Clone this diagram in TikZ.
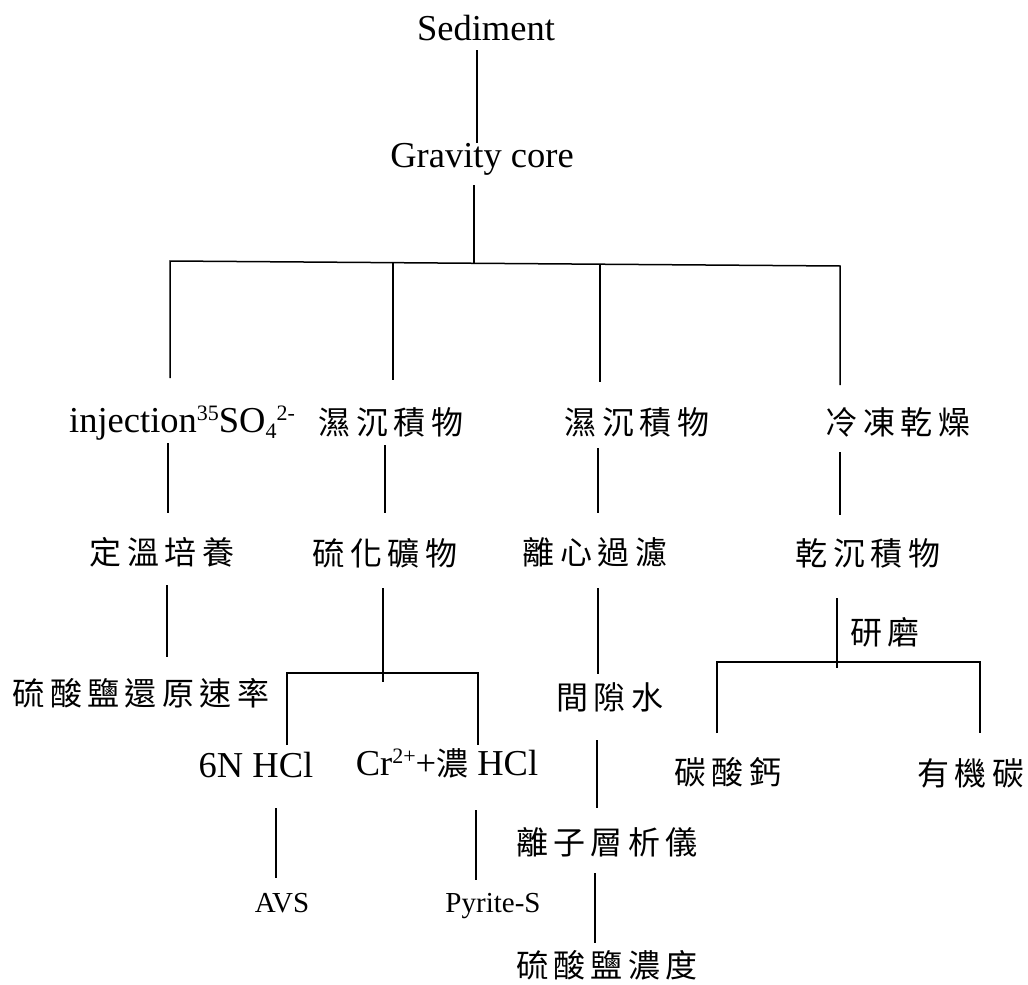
\documentclass[tikz,border=0pt]{standalone}
\usepackage{fontspec}
\setmainfont{Liberation Serif}
\newfontfamily\cjk{Noto Sans CJK TC}[LetterSpace=17]
\newcommand\hanmix[1]{{\fontsize{32}{36}\cjk #1}}
\newcommand\sps[1]{\raisebox{12pt}{\fontsize{22}{24}\selectfont #1}}
\newcommand\sbs[1]{\raisebox{-6pt}{\fontsize{22}{24}\selectfont #1}}
\begin{document}
\begin{tikzpicture}[x=1pt,y=-1pt,
  lat/.style={inner sep=0pt, anchor=base, font=\fontsize{36.5}{40}\selectfont},
  smalllat/.style={inner sep=0pt, anchor=base, font=\fontsize{29}{32}\selectfont},
  han/.style={inner sep=0pt, anchor=center, font=\fontsize{32}{36}\cjk},
  conn/.style={line width=1.5pt, line join=miter}]
\useasboundingbox (0,0) rectangle (1028,985);
% text nodes
\node[lat] (sed) at (486,40) {Sediment};
\node[lat] (grav) at (482,167) {Gravity core};
\node[lat] (inj) at (182,432) {injection\sps{35}SO\sbs{4}\sps{2-}};
\node[han] (wet1) at (391,422) {濕沉積物};
\node[han] (wet2) at (637,422) {濕沉積物};
\node[han] (frz) at (898,422) {冷凍乾燥};
\node[han] (inc) at (162,552) {定溫培養};
\node[han] (sulf) at (385,553) {硫化礦物};
\node[han] (cent) at (595,552) {離心過濾};
\node[han] (dry) at (868,553) {乾沉積物};
\node[han] (grind) at (885,632) {研磨};
\node[han] (srr) at (141,693) {硫酸鹽還原速率};
\node[han] (pore) at (610,697) {間隙水};
\node[lat] (hcl) at (256,777) {6N HCl};
\node[lat] (crh) at (447,775) {Cr\sps{2+}+\hanmix{濃} HCl};
\node[han] (caco) at (728,772) {碳酸鈣};
\node[han] (orgc) at (971,773) {有機碳};
\node[han] (ion) at (607,842) {離子層析儀};
\node[smalllat] (avs) at (282,912) {AVS};
\node[smalllat] (pyr) at (493,912) {Pyrite-S};
\node[han] (scon) at (607,965) {硫酸鹽濃度};
% connector end points
\coordinate (sedB) at (477,50);
\coordinate (gravT) at (477,143);
\coordinate (gravB) at (474,185);
\coordinate (barM) at (474,263);
\coordinate (barL) at (170,261);
\coordinate (barR) at (840,266);
\coordinate (injT) at (170,378);
\coordinate (bar2) at (393,262.5);
\coordinate (wet1T) at (393,380);
\coordinate (bar3) at (600,264);
\coordinate (wet2T) at (600,382);
\coordinate (frzT) at (840,385);
\coordinate (injB) at (168,443);
\coordinate (incT) at (168,513);
\coordinate (wet1B) at (385,445);
\coordinate (sulfT) at (385,513);
\coordinate (wet2B) at (598,448);
\coordinate (centT) at (598,513);
\coordinate (frzB) at (840,452);
\coordinate (dryT) at (840,515);
\coordinate (incB) at (167,585);
\coordinate (srrT) at (167,657);
\coordinate (sulfB) at (383,588);
\coordinate (brM) at (383,682);
\coordinate (brL) at (287,673);
\coordinate (brR) at (478,673);
\coordinate (hclT) at (287,745);
\coordinate (crhT) at (478,745);
\coordinate (centB) at (598,588);
\coordinate (poreT) at (598,674);
\coordinate (poreB) at (597,740);
\coordinate (ionT) at (597,808);
\coordinate (ionB) at (595,873);
\coordinate (sconT) at (595,943);
\coordinate (dryB) at (837,598);
\coordinate (grM) at (837,668);
\coordinate (grL) at (717,662);
\coordinate (grR) at (980,662);
\coordinate (cacoT) at (717,733);
\coordinate (orgcT) at (980,733);
\coordinate (hclB) at (276,808);
\coordinate (avsT) at (276,878);
\coordinate (crhB) at (476,810);
\coordinate (pyrT) at (476,880);
% connectors
\draw[conn] (sedB) -- (gravT);
\draw[conn] (gravB) -- (barM);
\draw[conn] (injT) -- (barL) -- (barR) -- (frzT);
\draw[conn] (bar2) -- (wet1T);
\draw[conn] (bar3) -- (wet2T);
\draw[conn] (injB) -- (incT);
\draw[conn] (wet1B) -- (sulfT);
\draw[conn] (wet2B) -- (centT);
\draw[conn] (frzB) -- (dryT);
\draw[conn] (incB) -- (srrT);
\draw[conn] (sulfB) -- (brM);
\draw[conn] (hclT) -- (brL) -- (brR) -- (crhT);
\draw[conn] (centB) -- (poreT);
\draw[conn] (poreB) -- (ionT);
\draw[conn] (ionB) -- (sconT);
\draw[conn] (dryB) -- (grM);
\draw[conn] (cacoT) -- (grL) -- (grR) -- (orgcT);
\draw[conn] (hclB) -- (avsT);
\draw[conn] (crhB) -- (pyrT);
\end{tikzpicture}
\end{document}
